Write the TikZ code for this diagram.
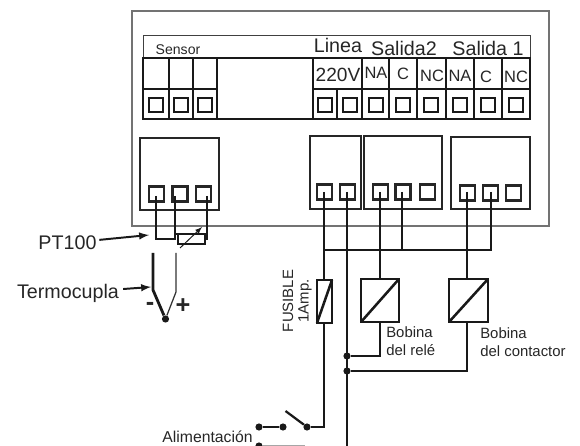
\documentclass[tikz,border=0pt]{standalone}
\usepackage{fontspec}
\setmainfont{Liberation Sans}
\begin{document}
\begin{tikzpicture}[
   x=0.025cm, y=-0.025cm,
   cell/.style={draw=black!90, line width=1.9pt},
   block/.style={draw=black!85, line width=1.8pt},
   casing/.style={draw=black!55, line width=0.9pt},
   strip/.style={draw=black!75, line width=0.7pt},
   pin/.style={draw=black!90, line width=1.8pt, inner sep=0pt, minimum size=0.34cm},
   screw/.style={draw=black!85, line width=1.8pt, inner sep=0pt, minimum size=0.38cm},
   wire/.style={-, draw=black!90, line width=1.6pt},
   thinwire/.style={-, draw=black!80, line width=0.9pt},
   pointer/.style={-latex, draw=black!90, line width=1.4pt},
   dot/.style={circle, fill=black!90, inner sep=0pt, minimum size=0.18cm},
   big/.style={text=black!85, inner sep=0pt, font=\fontsize{14}{14}\selectfont},
   mid/.style={text=black!85, inner sep=0pt, font=\fontsize{11.7}{12}\selectfont},
   small/.style={text=black!85, inner sep=0pt, font=\fontsize{10.6}{13}\selectfont, align=left}
]
\useasboundingbox (0,0) rectangle (580,446);

% Casing and label strip
\draw[casing] (132,11) rectangle (549,226);
\draw[strip] (143,35) rectangle (530,58);
\node[small] (sensor) at (178,50) {\fontsize{10}{10}\selectfont Sensor};
\node[big] (linea) at (338,45) {Linea};
\node[big] (salida2) at (404,48) {Salida2};
\node[big] (salida1) at (488,48) {Salida 1};

% Terminal strip
\draw[cell] (143,58) rectangle (530,119);
\draw[cell] (169,58) -- (169,119);
\draw[cell] (193,58) -- (193,119);
\draw[cell] (217,58) -- (217,119);
\draw[cell] (313,58) -- (313,119);
\draw[cell] (337,89) -- (337,119);
\draw[cell] (362,58) -- (362,119);
\draw[cell] (389,58) -- (389,119);
\draw[cell] (417,58) -- (417,119);
\draw[cell] (446,58) -- (446,119);
\draw[cell] (474,58) -- (474,119);
\draw[cell] (502,58) -- (502,119);
\draw[cell] (143,89) -- (217,89);
\draw[cell] (313,89) -- (530,89);
\node[big] (v220) at (338,75) {\fontsize{13.6}{14}\selectfont 220V};
\node[mid] (na2) at (376,73) {NA};
\node[mid] (c2) at (403,74) {C};
\node[mid] (nc2) at (432,76) {NC};
\node[mid] (na1) at (460,76) {NA};
\node[mid] (c1) at (486,77) {C};
\node[mid] (nc1) at (516,77) {NC};
\node[pin] (p1) at (156,105) {};
\node[pin] (p2) at (181,105) {};
\node[pin] (p3) at (205,105) {};
\node[pin] (p4) at (325,105) {};
\node[pin] (p5) at (350,105) {};
\node[pin] (p6) at (376,105) {};
\node[pin] (p7) at (403,105) {};
\node[pin] (p8) at (431,105) {};
\node[pin] (p9) at (460,105) {};
\node[pin] (p10) at (488,105) {};
\node[pin] (p11) at (516,105) {};

% Screw blocks
\draw[block] (140,138) rectangle (219,210);
\draw[block] (310,136) rectangle (361,209);
\draw[block] (364,136) rectangle (442,209);
\draw[block] (451,137) rectangle (530,209);
\node[screw] (s1) at (156.5,194) {};
\node[screw] (s2) at (180,194) {};
\node[screw] (s3) at (203.5,194) {};
\node[screw] (l1) at (324.5,192) {};
\node[screw] (l2) at (347.5,192) {};
\node[screw] (a1) at (380.5,192) {};
\node[screw] (a2) at (403,192) {};
\node[screw] (a3) at (427.5,192) {};
\node[screw] (b1) at (467.5,193) {};
\node[screw] (b2) at (490.5,193) {};
\node[screw] (b3) at (513.5,193) {};

% Sensor wiring
\coordinate (w1) at (156,196);
\coordinate (w2) at (175,196);
\coordinate (w3) at (207,196);
\coordinate (w1b) at (156,239);
\coordinate (w2b) at (175,239);
\coordinate (w3b) at (207,240);
\coordinate (w2c) at (175,234);
\draw[wire] (w1) -- (w1b) -- (w2b) -- (w2);
\draw[wire] (w3) -- (w3b);
\draw[wire] (w2c) -- (207,234);
\draw[wire] (178,234) rectangle (205,244);
\coordinate (ptbot) at (180,248);
\coordinate (pttop) at (202,227);
\draw[-latex, draw=black!90, line width=0.7pt] (ptbot) -- (pttop);

% Thermocouple
\node[dot] (junction) at (165.5,319) {};
\coordinate (tcl) at (153,253);
\coordinate (tclb) at (153,290);
\coordinate (tcr) at (176,253);
\coordinate (tcrb) at (176,292);
\draw[wire, line width=2pt] (tcl) -- (tclb) -- (junction);
\draw[thinwire] (tcr) -- (tcrb) -- (junction);
\node[big] (minus) at (150,306) {\fontsize{18}{18}\selectfont\bfseries -};
\node[big] (plus) at (183,306) {\fontsize{18}{18}\selectfont\bfseries +};

% Labels on the left
\node[big, outer sep=2pt] (pt100) at (67.5,243) {PT100};
\node[big, outer sep=3pt] (termo) at (68,293) {Termocupla};
\coordinate (ptend) at (149,235);
\coordinate (tcend) at (151,287);
\draw[pointer] (pt100) -- (ptend);
\draw[pointer] (termo) -- (tcend);

% Common bus
\coordinate (l1t) at (324,192);
\coordinate (l2t) at (347,192);
\coordinate (a1t) at (380,192);
\coordinate (a2t) at (402,192);
\coordinate (b1t) at (467,192);
\coordinate (b2t) at (491,192);
\coordinate (busl) at (324,250);
\coordinate (busa1) at (380,250);
\coordinate (busa2) at (402,250);
\coordinate (busb1) at (467,250);
\coordinate (busr) at (491,250);
\draw[wire] (a2t) -- (busa2);
\draw[wire] (b2t) -- (busr) -- (busl);

% Fuse
\draw[wire, line width=1.8pt] (317,280) rectangle (332,323);
\draw[wire, line width=1.8pt] (317,323) -- (332,280);
\coordinate (fuset) at (324,280);
\coordinate (fuseb) at (324,323);
\coordinate (fuseout) at (324,427);
\draw[wire] (l1t) -- (fuset);
\node[small, rotate=90] (fusible) at (288,301) {FUSIBLE};
\node[small, rotate=90] (amp) at (305,301) {1Amp.};

% Coils
\draw[wire, line width=1.8pt] (361,279) rectangle (399,322);
\draw[wire, line width=1.8pt] (361,322) -- (399,279);
\draw[wire, line width=1.8pt] (449,279) rectangle (488,322);
\draw[wire, line width=1.8pt] (449,322) -- (488,279);
\coordinate (ka) at (380,279);
\coordinate (kab) at (380,322);
\coordinate (kb) at (467,279);
\coordinate (kbb) at (467,322);
\draw[wire] (a1t) -- (ka);
\draw[wire] (b1t) -- (kb);
\node[dot] (na) at (347,356) {};
\node[dot] (nb) at (347,371) {};
\coordinate (kac) at (380,356);
\coordinate (kbc) at (467,371);
\draw[wire] (kab) -- (kac) -- (na);
\draw[wire] (kbb) -- (kbc) -- (nb);
\node[small, anchor=west] (boba) at (386,341) {Bobina\\del relé};
\node[small, anchor=west] (bobb) at (480,342) {Bobina\\del contactor};

% Supply
\coordinate (neutral) at (347,446);
\draw[wire] (l2t) -- (neutral);
\node[dot] (sw3) at (307,427) {};
\node[dot] (sw2) at (283,427) {};
\node[dot] (sw1) at (259,427) {};
\node[dot] (sw4) at (259,446) {};
\coordinate (blade) at (285.5,411);
\coordinate (fade) at (305,446);
\draw[wire] (fuseb) -- (fuseout) -- (sw3);
\draw[wire] (sw3) -- (blade);
\draw[wire] (sw1) -- (sw2);
\draw[wire, draw=black!35] (sw4) -- (fade);
\node[small, font=\fontsize{11.2}{13}\selectfont] (alim) at (207.5,437) {Alimentación};
\end{tikzpicture}
\end{document}
